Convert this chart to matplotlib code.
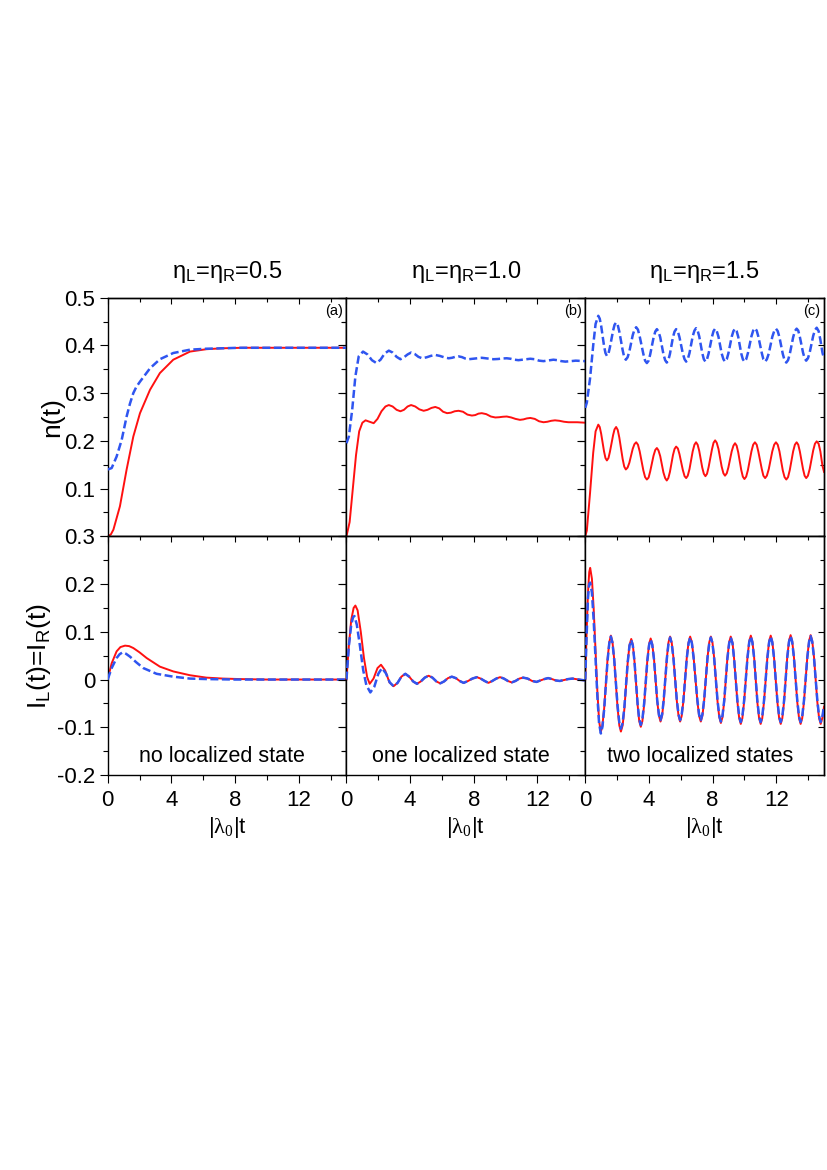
import matplotlib
matplotlib.use("Agg")
import matplotlib.pyplot as plt
from matplotlib.ticker import MultipleLocator, FixedLocator, FixedFormatter, NullFormatter

plt.rcParams['font.family'] = ['Liberation Sans', 'DejaVu Sans']
plt.rcParams['mathtext.fontset'] = 'custom'
plt.rcParams['mathtext.rm'] = 'Liberation Sans'
plt.rcParams['mathtext.it'] = 'Liberation Sans:italic'
plt.rcParams['mathtext.sf'] = 'Liberation Serif'

# ---------------- data ----------------
titles = [r'η$_\mathrm{L}$=η$_\mathrm{R}$=0.5', r'η$_\mathrm{L}$=η$_\mathrm{R}$=1.0', r'η$_\mathrm{L}$=η$_\mathrm{R}$=1.5']
panel_tags = ['(a)', '(b)', '(c)']
state_texts = ['no localized state', 'one localized state', 'two localized states']

# panel (a) n(t)
t_a_n_red = [0, 0.2, 0.36, 0.77, 1.19, 1.61, 2.03, 2.66, 3.28, 4.12, 5.17, 6.2, 7.26, 8.5, 10, 12, 15]
n_a_red = [0, 0.004, 0.014, 0.063, 0.140, 0.209, 0.258, 0.307, 0.342, 0.370, 0.387, 0.392, 0.394, 0.395, 0.395, 0.395, 0.395]
t_a_n_blue = [0, 0.25, 0.56, 0.88, 1.19, 1.4, 1.61, 1.8, 2.03, 2.66, 3.28, 4.12, 5.17, 6.2, 7.3, 8.3, 10, 12, 15]
n_a_blue = [0.140, 0.143, 0.167, 0.202, 0.251, 0.278, 0.300, 0.313, 0.324, 0.352, 0.371, 0.384, 0.391, 0.393, 0.394, 0.395, 0.395, 0.395, 0.395]

# panel (a) current
t_a_I_red = [0, 0.25, 0.56, 0.8, 1.09, 1.35, 1.61, 2.0, 2.45, 3.28, 4.12, 5.17, 6.2, 7.26, 8.3, 10, 15]
I_a_red = [0, 0.034, 0.059, 0.068, 0.071, 0.070, 0.066, 0.057, 0.045, 0.027, 0.017, 0.009, 0.004, 0.002, 0.001, 0, 0]
t_a_I_blue = [0, 0.25, 0.56, 0.75, 0.94, 1.15, 1.4, 1.8, 2.24, 3.07, 4.12, 5.17, 6.2, 8, 15]
I_a_blue = [0, 0.024, 0.045, 0.053, 0.057, 0.054, 0.048, 0.036, 0.024, 0.012, 0.006, 0.002, 0.001, 0, 0]

# panel (b) n(t)
t_b_n_red = [0, 0.2, 0.4, 0.6, 0.8, 1.0, 1.2, 1.45, 1.71, 1.95, 2.2, 2.45, 2.66,
             2.90, 3.15, 3.39, 3.61, 3.84, 4.06, 4.32, 4.58, 4.85, 5.09, 5.34, 5.58,
             5.83, 6.07, 6.32, 6.56, 6.80, 7.04, 7.32, 7.60, 7.88, 8.09, 8.29, 8.5,
             8.78, 9.07, 9.35, 9.59, 9.83, 10.07, 10.35, 10.62, 10.9, 11.12, 11.33, 11.55,
             11.83, 12.10, 12.38, 12.62, 12.86, 13.1, 13.38, 13.67, 13.95, 14.5, 15.0]
n_b_red = [0, 0.03, 0.10, 0.17, 0.22, 0.238, 0.243, 0.240, 0.237, 0.246, 0.262, 0.272, 0.275,
           0.272, 0.265, 0.262, 0.265, 0.272, 0.275, 0.272, 0.266, 0.263, 0.265, 0.269, 0.271,
           0.268, 0.261, 0.258, 0.259, 0.262, 0.263, 0.261, 0.255, 0.253, 0.254, 0.257, 0.258,
           0.256, 0.251, 0.249, 0.2495, 0.2505, 0.251, 0.249, 0.246, 0.244, 0.245, 0.247, 0.248,
           0.246, 0.241, 0.239, 0.240, 0.242, 0.243, 0.242, 0.240, 0.239, 0.239, 0.238]
t_b_n_blue = [0, 0.15, 0.36, 0.56, 0.77, 1.04, 1.32, 1.60, 1.88, 2.14, 2.40, 2.66,
              2.90, 3.15, 3.39, 3.61, 3.84, 4.06, 4.29, 4.52, 4.75, 5.03, 5.30, 5.58,
              5.86, 6.14, 6.42, 6.63, 6.83, 7.04, 7.25, 7.46, 7.67, 7.95, 8.22, 8.5,
              8.75, 8.99, 9.24, 9.52, 9.79, 10.07, 10.31, 10.56, 10.8, 11.05, 11.30, 11.55,
              11.83, 12.10, 12.38, 12.59, 12.79, 13.0, 13.25, 13.50, 13.75, 14.1, 14.4, 15.0]
n_b_blue = [0.195, 0.209, 0.265, 0.335, 0.377, 0.387, 0.381, 0.369, 0.363, 0.370, 0.383, 0.389,
            0.385, 0.376, 0.371, 0.375, 0.381, 0.385, 0.382, 0.376, 0.373, 0.375, 0.378, 0.380,
            0.378, 0.375, 0.373, 0.374, 0.376, 0.377, 0.3755, 0.3725, 0.371, 0.372, 0.373, 0.374,
            0.373, 0.372, 0.371, 0.3715, 0.3725, 0.373, 0.372, 0.370, 0.369, 0.370, 0.371, 0.372,
            0.371, 0.368, 0.367, 0.368, 0.369, 0.370, 0.369, 0.367, 0.366, 0.367, 0.368, 0.367]

# panel (b) current
t_b_I_red = [0, 0.15, 0.3, 0.45, 0.56, 0.7, 0.9, 1.1, 1.3, 1.46, 1.7, 1.95, 2.17, 2.43, 2.70, 2.96,
             3.21, 3.45, 3.7, 3.94, 4.19, 4.43, 4.67, 4.92, 5.16, 5.40, 5.65, 5.89, 6.13, 6.38,
             6.62, 6.87, 7.11, 7.36, 7.64, 7.91, 8.19, 8.43, 8.68, 8.92, 9.16, 9.41, 9.65, 9.89,
             10.14, 10.38, 10.62, 10.86, 11.1, 11.38, 11.66, 11.94, 12.18, 12.43, 12.67, 12.91,
             13.16, 13.4, 13.67, 13.93, 14.2, 14.6, 15.0]
I_b_red = [0, 0.07, 0.125, 0.150, 0.155, 0.145, 0.10, 0.045, 0.005, -0.009, 0.002, 0.024, 0.031, 0.019, -0.006, -0.014,
           -0.007, 0.006, 0.012, 0.006, -0.004, -0.009, -0.004, 0.004, 0.008, 0.004, -0.004, -0.008, -0.004, 0.003,
           0.006, 0.003, -0.003, -0.007, -0.003, 0.002, 0.005, 0.002, -0.003, -0.007, -0.003, 0.002, 0.005, 0.002,
           -0.003, -0.006, -0.003, 0.002, 0.004, 0.002, -0.003, -0.005, -0.002, 0.001, 0.003, 0.001,
           -0.002, -0.003, -0.001, 0.001, 0.002, 0.0, -0.002]
t_b_I_blue = [0, 0.15, 0.3, 0.42, 0.5, 0.65, 0.85, 1.05, 1.25, 1.5, 1.75, 2.0, 2.23, 2.48, 2.72, 2.96,
              3.21, 3.45, 3.7, 3.94, 4.19, 4.43, 4.67, 4.92, 5.16, 5.40, 5.65, 5.89, 6.13, 6.38,
              6.62, 6.87, 7.11, 7.36, 7.64, 7.91, 8.19, 8.43, 8.68, 8.92, 9.16, 9.41, 9.65, 9.89,
              10.14, 10.38, 10.62, 10.86, 11.1, 11.38, 11.66, 11.94, 12.18, 12.43, 12.67, 12.91,
              13.16, 13.4, 13.67, 13.93, 14.2, 14.6, 15.0]
I_b_blue = [0, 0.07, 0.115, 0.131, 0.133, 0.115, 0.07, 0.02, -0.012, -0.027, -0.015, 0.012, 0.024, 0.013, -0.006, -0.014,
            -0.007, 0.006, 0.012, 0.006, -0.004, -0.009, -0.004, 0.004, 0.008, 0.004, -0.004, -0.008, -0.004, 0.003,
            0.006, 0.003, -0.003, -0.007, -0.003, 0.002, 0.005, 0.002, -0.003, -0.007, -0.003, 0.002, 0.005, 0.002,
            -0.003, -0.006, -0.003, 0.002, 0.004, 0.002, -0.003, -0.005, -0.002, 0.001, 0.003, 0.001,
            -0.002, -0.003, -0.001, 0.001, 0.002, 0.0, -0.002]

# panel (c) n(t)  (same sampling times for both curves; one line per half-cycle)
t_c_n = [0, 0.1, 0.3, 0.5, 0.65,
         0.82, 0.91, 1.00, 1.18, 1.27,
         1.36, 1.46, 1.55, 1.75, 1.84,
         1.94, 2.04, 2.14, 2.35, 2.45,
         2.55, 2.66, 2.77, 2.98, 3.09,
         3.2, 3.31, 3.42, 3.65, 3.76,
         3.87, 3.98, 4.08, 4.29, 4.40,
         4.5, 4.60, 4.71, 4.91, 5.02,
         5.12, 5.22, 5.32, 5.51, 5.61,
         5.71, 5.82, 5.92, 6.13, 6.24,
         6.34, 6.44, 6.55, 6.75, 6.86,
         6.96, 7.06, 7.16, 7.35, 7.45,
         7.55, 7.65, 7.75, 7.96, 8.06,
         8.16, 8.26, 8.37, 8.57, 8.68,
         8.78, 8.89, 8.99, 9.20, 9.31,
         9.41, 9.51, 9.61, 9.80, 9.90,
         10.0, 10.11, 10.22, 10.44, 10.55,
         10.66, 10.77, 10.87, 11.09, 11.19,
         11.3, 11.41, 11.53, 11.75, 11.87,
         11.98, 12.09, 12.20, 12.41, 12.52,
         12.63, 12.74, 12.85, 13.06, 13.17,
         13.28, 13.38, 13.48, 13.68, 13.78,
         13.88, 13.99, 14.10, 14.32, 14.43,
         14.54, 14.66, 14.77, 14.9, 15.0]
n_c_red = [0, 0.012, 0.09, 0.175, 0.22,
           0.234, 0.229, 0.215, 0.178, 0.164,
           0.159, 0.164, 0.177, 0.212, 0.224,
           0.229, 0.223, 0.207, 0.162, 0.146,
           0.140, 0.144, 0.154, 0.183, 0.193,
           0.197, 0.192, 0.178, 0.138, 0.124,
           0.119, 0.123, 0.136, 0.169, 0.181,
           0.185, 0.180, 0.168, 0.134, 0.122,
           0.117, 0.122, 0.135, 0.170, 0.183,
           0.188, 0.184, 0.172, 0.139, 0.126,
           0.122, 0.127, 0.141, 0.178, 0.192,
           0.197, 0.192, 0.179, 0.144, 0.131,
           0.126, 0.131, 0.145, 0.182, 0.196,
           0.201, 0.196, 0.183, 0.146, 0.132,
           0.127, 0.132, 0.144, 0.178, 0.190,
           0.195, 0.190, 0.176, 0.139, 0.125,
           0.120, 0.125, 0.139, 0.178, 0.192,
           0.197, 0.192, 0.178, 0.141, 0.127,
           0.122, 0.127, 0.141, 0.178, 0.192,
           0.197, 0.192, 0.178, 0.138, 0.124,
           0.119, 0.124, 0.139, 0.178, 0.192,
           0.197, 0.192, 0.178, 0.141, 0.127,
           0.122, 0.127, 0.141, 0.180, 0.194,
           0.199, 0.194, 0.178, 0.148, 0.135]
n_c_blue = [0.269, 0.28, 0.33, 0.40, 0.445,
            0.462, 0.456, 0.441, 0.399, 0.384,
            0.378, 0.383, 0.396, 0.431, 0.443,
            0.448, 0.443, 0.429, 0.390, 0.375,
            0.370, 0.375, 0.387, 0.421, 0.433,
            0.438, 0.433, 0.419, 0.382, 0.368,
            0.363, 0.368, 0.381, 0.416, 0.429,
            0.434, 0.429, 0.417, 0.382, 0.369,
            0.364, 0.369, 0.382, 0.417, 0.429,
            0.434, 0.429, 0.417, 0.383, 0.371,
            0.366, 0.371, 0.384, 0.419, 0.431,
            0.436, 0.431, 0.419, 0.384, 0.371,
            0.366, 0.371, 0.383, 0.418, 0.430,
            0.435, 0.430, 0.418, 0.383, 0.371,
            0.366, 0.371, 0.383, 0.418, 0.430,
            0.435, 0.430, 0.418, 0.383, 0.371,
            0.366, 0.371, 0.384, 0.419, 0.431,
            0.436, 0.431, 0.419, 0.384, 0.371,
            0.366, 0.371, 0.383, 0.418, 0.430,
            0.435, 0.430, 0.417, 0.382, 0.369,
            0.364, 0.369, 0.382, 0.417, 0.430,
            0.435, 0.431, 0.418, 0.385, 0.373,
            0.368, 0.373, 0.385, 0.420, 0.432,
            0.437, 0.430, 0.412, 0.385, 0.372]

# panel (c) current (same sampling times for both curves; one line per half-cycle)
t_c_I = [0, 0.08, 0.17, 0.25,
         0.31, 0.42, 0.53, 0.76, 0.87,
         0.98, 1.08, 1.19, 1.40, 1.51,
         1.61, 1.71, 1.82, 2.03, 2.14,
         2.24, 2.35, 2.46, 2.67, 2.78,
         2.89, 2.99, 3.09, 3.29, 3.39,
         3.49, 3.59, 3.70, 3.90, 4.01,
         4.11, 4.21, 4.32, 4.52, 4.63,
         4.73, 4.83, 4.93, 5.13, 5.23,
         5.33, 5.43, 5.54, 5.75, 5.86,
         5.96, 6.06, 6.17, 6.38, 6.49,
         6.59, 6.70, 6.81, 7.04, 7.15,
         7.26, 7.36, 7.47, 7.68, 7.79,
         7.89, 7.99, 8.10, 8.31, 8.42,
         8.52, 8.62, 8.73, 8.93, 9.04,
         9.14, 9.25, 9.35, 9.56, 9.67,
         9.77, 9.87, 9.98, 10.19, 10.30,
         10.4, 10.50, 10.61, 10.81, 10.92,
         11.02, 11.12, 11.23, 11.44, 11.55,
         11.65, 11.75, 11.86, 12.07, 12.18,
         12.28, 12.38, 12.49, 12.69, 12.80,
         12.9, 13.00, 13.11, 13.32, 13.43,
         13.53, 13.63, 13.74, 13.95, 14.06,
         14.16, 14.26, 14.37, 14.58, 14.69,
         14.79, 14.9, 15.0]
I_c_red = [0, 0.09, 0.18, 0.225,
           0.234, 0.211, 0.148, -0.024, -0.087,
           -0.110, -0.096, -0.060, 0.042, 0.078,
           0.092, 0.079, 0.042, -0.059, -0.096,
           -0.109, -0.096, -0.061, 0.037, 0.072,
           0.085, 0.073, 0.039, -0.053, -0.087,
           -0.099, -0.087, -0.053, 0.040, 0.074,
           0.086, 0.074, 0.043, -0.045, -0.076,
           -0.088, -0.076, -0.044, 0.046, 0.078,
           0.090, 0.078, 0.046, -0.044, -0.076,
           -0.088, -0.076, -0.044, 0.046, 0.078,
           0.090, 0.078, 0.046, -0.044, -0.076,
           -0.088, -0.076, -0.044, 0.046, 0.078,
           0.090, 0.078, 0.045, -0.046, -0.079,
           -0.091, -0.079, -0.046, 0.045, 0.078,
           0.090, 0.078, 0.044, -0.047, -0.081,
           -0.093, -0.081, -0.047, 0.046, 0.080,
           0.092, 0.080, 0.046, -0.047, -0.081,
           -0.093, -0.081, -0.047, 0.046, 0.080,
           0.092, 0.080, 0.046, -0.047, -0.081,
           -0.093, -0.081, -0.047, 0.047, 0.081,
           0.093, 0.081, 0.047, -0.047, -0.081,
           -0.093, -0.081, -0.047, 0.047, 0.081,
           0.093, 0.081, 0.047, -0.047, -0.081,
           -0.093, -0.080, -0.057]
I_c_blue = [0, 0.085, 0.17, 0.20,
            0.203, 0.182, 0.124, -0.034, -0.092,
            -0.113, -0.099, -0.062, 0.039, 0.076,
            0.090, 0.077, 0.042, -0.055, -0.090,
            -0.103, -0.091, -0.057, 0.037, 0.071,
            0.083, 0.071, 0.039, -0.051, -0.083,
            -0.095, -0.083, -0.050, 0.039, 0.072,
            0.084, 0.073, 0.042, -0.043, -0.074,
            -0.085, -0.073, -0.042, 0.045, 0.076,
            0.088, 0.076, 0.045, -0.042, -0.073,
            -0.085, -0.073, -0.042, 0.045, 0.076,
            0.088, 0.076, 0.045, -0.042, -0.073,
            -0.085, -0.073, -0.042, 0.045, 0.076,
            0.088, 0.076, 0.044, -0.044, -0.076,
            -0.088, -0.076, -0.044, 0.044, 0.076,
            0.088, 0.076, 0.044, -0.045, -0.077,
            -0.089, -0.077, -0.044, 0.045, 0.078,
            0.090, 0.078, 0.045, -0.044, -0.077,
            -0.089, -0.077, -0.044, 0.045, 0.078,
            0.090, 0.078, 0.045, -0.044, -0.077,
            -0.089, -0.077, -0.044, 0.046, 0.079,
            0.091, 0.079, 0.046, -0.044, -0.077,
            -0.089, -0.077, -0.044, 0.046, 0.079,
            0.091, 0.079, 0.046, -0.044, -0.077,
            -0.089, -0.077, -0.055]

top_yticks = [0.0, 0.1, 0.2, 0.3, 0.4, 0.5]
top_yticklabels = ['', '0.1', '0.2', '0.3', '0.4', '0.5']
bot_yticks = [-0.2, -0.1, 0.0, 0.1, 0.2, 0.3]
bot_yticklabels = ['-0.2', '-0.1', '0', '0.1', '0.2', '0.3']
xticks = [0, 4, 8, 12]
xticklabels = ['0', '4', '8', '12']

top_data = [
    ((t_a_n_red, n_a_red), (t_a_n_blue, n_a_blue)),
    ((t_b_n_red, n_b_red), (t_b_n_blue, n_b_blue)),
    ((t_c_n, n_c_red), (t_c_n, n_c_blue)),
]
bot_data = [
    ((t_a_I_red, I_a_red), (t_a_I_blue, I_a_blue)),
    ((t_b_I_red, I_b_red), (t_b_I_blue, I_b_blue)),
    ((t_c_I, I_c_red), (t_c_I, I_c_blue)),
]

RED = '#ff1010'
BLUE = '#2f55f0'
FS_TICK = 16
FS_TITLE = 17
FS_YLAB = 19
FS_TEXT = 15.5
FS_XLAB = 16

fig = plt.figure(figsize=(8.27, 11.70), dpi=100)
gs = fig.add_gridspec(2, 3, left=0.1302, right=0.9964, top=0.7456, bottom=0.3376,
                      hspace=0, wspace=0)


def style(ax, yticks):
    ax.set_xlim(0, 15)
    # left / bottom axes: outward ticks
    ax.tick_params(which='both', direction='out', top=False, right=False,
                   labelsize=FS_TICK, width=0.8)
    ax.tick_params(which='major', length=5.5)
    ax.tick_params(which='minor', length=3.5)
    ax.tick_params(axis='x', which='major', pad=5.5)
    ax.tick_params(axis='y', which='major', pad=3.5)
    for s in ax.spines.values():
        s.set_linewidth(1.0)
    ax.xaxis.set_major_locator(FixedLocator(xticks))
    ax.xaxis.set_minor_locator(MultipleLocator(2))
    ax.yaxis.set_major_locator(FixedLocator(yticks))
    ax.yaxis.set_minor_locator(MultipleLocator(0.05))
    # top / right mirror axes: inward ticks
    sx = ax.secondary_xaxis('top')
    sx.xaxis.set_major_locator(FixedLocator(xticks))
    sx.xaxis.set_minor_locator(MultipleLocator(2))
    sx.xaxis.set_major_formatter(NullFormatter())
    sx.tick_params(which='both', direction='in', width=0.8)
    sx.tick_params(which='major', length=4.3)
    sx.tick_params(which='minor', length=2.6)
    sx.spines['top'].set_linewidth(1.0)
    sy = ax.secondary_yaxis('right')
    sy.yaxis.set_major_locator(FixedLocator(yticks))
    sy.yaxis.set_minor_locator(MultipleLocator(0.05))
    sy.yaxis.set_major_formatter(NullFormatter())
    sy.tick_params(which='both', direction='in', width=0.8)
    sy.tick_params(which='major', length=4.3)
    sy.tick_params(which='minor', length=2.6)
    sy.spines['right'].set_linewidth(1.0)


for col in range(3):
    axt = fig.add_subplot(gs[0, col])
    axb = fig.add_subplot(gs[1, col])
    axt.set_ylim(0, 0.5)
    axb.set_ylim(-0.2, 0.3)
    style(axt, top_yticks)
    style(axb, bot_yticks)

    (tr, yr), (tb, yb) = top_data[col]
    axt.plot(tr, yr, color=RED, lw=1.4, zorder=2)
    axt.plot(tb, yb, color=BLUE, lw=1.8, dashes=(3.2, 1.4), zorder=3)
    (tr, yr), (tb, yb) = bot_data[col]
    axb.plot(tr, yr, color=RED, lw=1.4, zorder=2)
    axb.plot(tb, yb, color=BLUE, lw=1.8, dashes=(3.2, 1.4), zorder=3)

    axt.tick_params(labelbottom=False)
    axb.xaxis.set_major_formatter(FixedFormatter(xticklabels))
    if col == 0:
        axt.yaxis.set_major_formatter(FixedFormatter(top_yticklabels))
        axb.yaxis.set_major_formatter(FixedFormatter(bot_yticklabels))
        axt.set_ylabel('n(t)', fontsize=FS_YLAB, labelpad=0)
        axb.set_ylabel(r'I$_\mathrm{L}$(t)=I$_\mathrm{R}$(t)', fontsize=FS_YLAB, labelpad=3)
    else:
        axt.tick_params(labelleft=False)
        axb.tick_params(labelleft=False)
    axt.set_title(titles[col], fontsize=FS_TITLE, pad=14)
    axt.text(0.985, 0.975, panel_tags[col], transform=axt.transAxes,
             ha='right', va='top', fontsize=10.5)
    axb.text(7.2, -0.162, state_texts[col], ha='center', va='center', fontsize=FS_TEXT)
    axb.set_xlabel(r'|$\mathsf{λ}_\mathsf{0}$|t', fontsize=FS_XLAB, labelpad=3)

fig.savefig('out.png', dpi=100)
